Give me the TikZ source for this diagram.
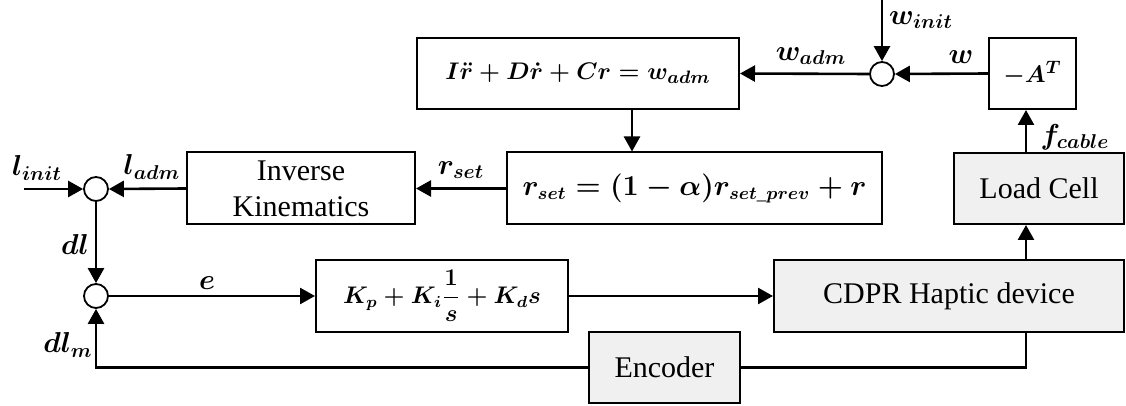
\documentclass[tikz,border=0pt]{standalone}
\usepackage{amsmath,amssymb}
\usepackage[no-math]{fontspec}
\setmainfont{Liberation Serif}
\usetikzlibrary{positioning,calc}
\usetikzlibrary{arrows.meta}
\definecolor{BoxGray}{RGB}{240,240,240}
\tikzset{
  blk/.style={draw=black,fill=white,line width=1pt,inner sep=0pt,minimum height=35.5pt,
    font=\fontsize{15}{17}\selectfont,align=center},
  gblk/.style={blk,fill=BoxGray},
  mblk/.style={blk,font=\fontsize{13}{16}\selectfont\boldmath},
}
\tikzset{sumc/.style={circle,draw=black,fill=white,line width=0.9pt,minimum size=12pt,inner sep=0pt}, sig/.style={draw=black,line width=1.3pt,-{Triangle[length=7.5pt,width=8pt]}}, wire/.style={draw=black,line width=1.3pt}, lbl/.style={inner sep=0pt,font=\fontsize{14}{17}\selectfont\boldmath}}

\begin{document}
\begin{tikzpicture}[x=0.5pt,y=-0.5pt]
\useasboundingbox (0,0) rectangle (1126,406);
% blocks
\node[mblk,minimum width=161pt,font=\fontsize{12.5}{15}\selectfont\boldmath](adm) at (578,73.5){$I\ddot{r}+D\dot{r}+Cr=w_{adm}$};
\node[mblk,minimum width=43.5pt](AT) at (1032.5,73.5){$-A^{T}$};
\node[gblk,minimum width=85pt](lc) at (1039,188.5){Load Cell};
\node[mblk,minimum width=187.5pt,minimum height=36pt,font=\fontsize{13.5}{16}\selectfont\boldmath](rset) at (694.5,188.5){$r_{set}=(1-\alpha)r_{set\_prev}+r$};
\node[blk,minimum width=114pt,minimum height=36pt](ik) at (301,188.5){Inverse\\[1pt]Kinematics};
\node[mblk,minimum width=126pt,minimum height=36pt,font=\fontsize{12}{14}\selectfont\boldmath](pid) at (442,296){$K_p+K_i\dfrac{1}{s}+K_ds$};
\node[gblk,minimum width=175pt,minimum height=36pt](cdpr) at (949,296){CDPR Haptic device};
\node[gblk,minimum width=75.5pt](enc) at (664.5,367.5){Encoder};
% summing junctions
\node[sumc](wsum) at (882,74){};\node[sumc](lsum) at (96,189){};\node[sumc](esum) at (96,296){};
\coordinate (winit) at (882,0);\coordinate (linit) at (24,189);
\coordinate (tap) at (632,0);\coordinate (tapr) at (1026,0);
% signals
\draw[sig] (AT.west) -- (wsum.east);\draw[sig] (winit) -- (wsum.north);\draw[sig] (wsum.west) -- (adm.east);
\draw[sig] (adm.south -| tap) -- (rset.north -| tap);\draw[sig] (rset.west) -- (ik.east);
\draw[sig] (ik.west) -- (lsum.east);\draw[sig] (linit) -- (lsum.west);\draw[sig] (lsum.south) -- (esum.north);
\draw[sig] (esum.east) -- (pid.west);\draw[sig] (pid.east) -- (cdpr.west);
\draw[sig] (cdpr.north -| tapr) -- (lc.south -| tapr);\draw[sig] (lc.north -| tapr) -- (AT.south -| tapr);
\draw[wire] (cdpr.south -| tapr) |- (enc.east);\draw[sig] (enc.west) -| (esum.south);
% labels
\node[lbl](lwadm) at (811,56){$w_{adm}$};\node[lbl](lw) at (961,57){$w$};\node[lbl](lwinit) at (921,20){$w_{init}$};
\node[lbl](lfc) at (1075,137){$f_{cable}$};\node[lbl](lrset) at (461,170){$r_{set}$};
\node[lbl](llinit) at (37,168){$l_{init}$};\node[lbl](lladm) at (152,167){$l_{adm}$};
\node[lbl](ldl) at (75,245){$dl$};\node[lbl](le) at (207,283){$e$};\node[lbl](ldlm) at (68,345){$dl_m$};
\end{tikzpicture}
\end{document}
